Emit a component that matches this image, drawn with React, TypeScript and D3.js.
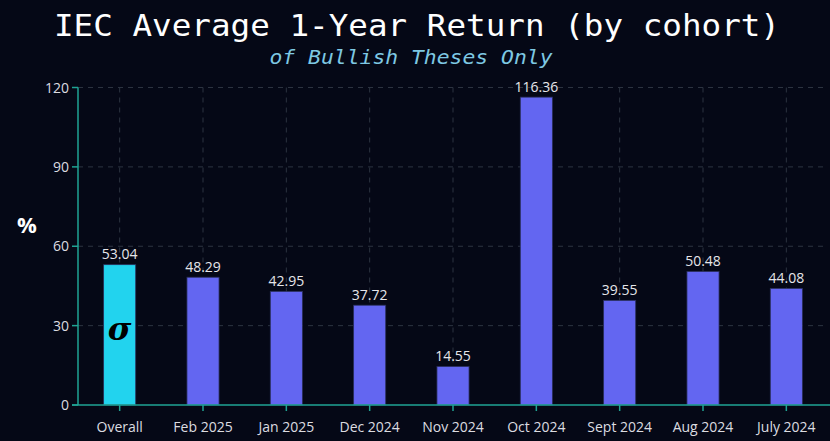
import React from "react";
import * as d3 from "d3";

const categories = ["Overall", "Feb 2025", "Jan 2025", "Dec 2024", "Nov 2024", "Oct 2024", "Sept 2024", "Aug 2024", "July 2024"];
const values = [53.04, 48.29, 42.95, 37.72, 14.55, 116.36, 39.55, 50.48, 44.08];
const yTicks = [0, 30, 60, 90, 120];

const W = 830;
const H = 441;
const margin = { left: 78, right: 2, top: 87.5, bottom: 36 };

export default function App() {
  const x = d3
    .scaleBand<string>()
    .domain(categories)
    .range([margin.left, W - margin.right])
    .paddingInner(0.615)
    .paddingOuter(0.3075);
  const xc = d3.scalePoint<string>().domain(categories).range([margin.left, W - margin.right]).padding(0.5);
  const y = d3.scaleLinear().domain([0, 120]).range([H - margin.bottom, margin.top]);
  const axisColor = "#1fa394";
  const tickFont = "'Open Sans', 'Noto Sans', sans-serif";

  return (
    <svg width={W} height={H} style={{ position: "absolute", left: 0, top: 0, background: "#050816" }}>
      <rect x={0} y={0} width={W} height={H} fill="#050816" />
      {/* grid */}
      {yTicks.filter((t) => t > 0).map((t) => (
        <line key={"gy" + t} x1={margin.left} x2={W - margin.right} y1={y(t)} y2={y(t)} stroke="#2c3340" strokeDasharray="5,5" strokeWidth={1} />
      ))}
      {categories.map((c) => (
        <line key={"gx" + c} x1={xc(c)!} x2={xc(c)!} y1={y(120)} y2={y(0)} stroke="#2c3340" strokeDasharray="5,5" strokeWidth={1} />
      ))}
      {/* bars */}
      {categories.map((c, i) => (
        <rect
          key={"b" + c}
          x={x(c)!}
          y={y(values[i])}
          width={x.bandwidth()}
          height={y(0) - y(values[i])}
          fill={i === 0 ? "#22d3ee" : "#6366f1"}
          stroke="#2a2f5a"
          strokeWidth={0.8}
        />
      ))}
      {categories.map((c, i) => (
        <text key={"v" + c} x={xc(c)!} y={y(values[i]) - 5.5} textAnchor="middle" fill="#e6e6ea" fontSize={14} fontFamily={tickFont}>
          {values[i].toFixed(2)}
        </text>
      ))}
      {/* sigma */}
      <text x={xc(categories[0])!} y={340} textAnchor="middle" fill="#000" fontSize={32} fontStyle="italic" fontWeight="bold" fontFamily="'DejaVu Serif', 'Liberation Serif', serif">
        σ
      </text>
      {/* y axis */}
      <line x1={margin.left} x2={margin.left} y1={y(120)} y2={y(0)} stroke={axisColor} strokeWidth={1.5} />
      {yTicks.map((t) => (
        <g key={"yt" + t}>
          <line x1={margin.left - 6} x2={margin.left} y1={y(t)} y2={y(t)} stroke={axisColor} strokeWidth={1.5} />
          <text x={margin.left - 9} y={y(t) + 5} textAnchor="end" fill="#dcdce0" fontSize={14} fontFamily={tickFont}>
            {t}
          </text>
        </g>
      ))}
      {/* x axis */}
      <line x1={margin.left - 6} x2={W} y1={y(0)} y2={y(0)} stroke={axisColor} strokeWidth={1.5} />
      {categories.map((c) => (
        <g key={"xt" + c}>
          <line x1={xc(c)!} x2={xc(c)!} y1={y(0)} y2={y(0) + 6} stroke={axisColor} strokeWidth={1.5} />
          <text x={xc(c)!} y={432} textAnchor="middle" fill="#dcdce0" fontSize={14} fontFamily={tickFont}>
            {c}
          </text>
        </g>
      ))}
      {/* y label */}
      <text x={27} y={233} textAnchor="middle" fill="#ffffff" fontSize={22} fontWeight="bold" fontFamily={tickFont}>
        %
      </text>
      {/* title */}
      <text x={417} y={36} textAnchor="middle" fill="#ffffff" fontSize={30} fontFamily="'DejaVu Sans Mono', monospace" textLength={726} lengthAdjust="spacingAndGlyphs">
        IEC Average 1-Year Return (by cohort)
      </text>
      <text x={411} y={64} textAnchor="middle" fill="#7ec8e3" fontSize={20} fontStyle="italic" fontFamily="'DejaVu Sans Mono', monospace" textLength={283} lengthAdjust="spacingAndGlyphs">
        of Bullish Theses Only
      </text>
    </svg>
  );
}
